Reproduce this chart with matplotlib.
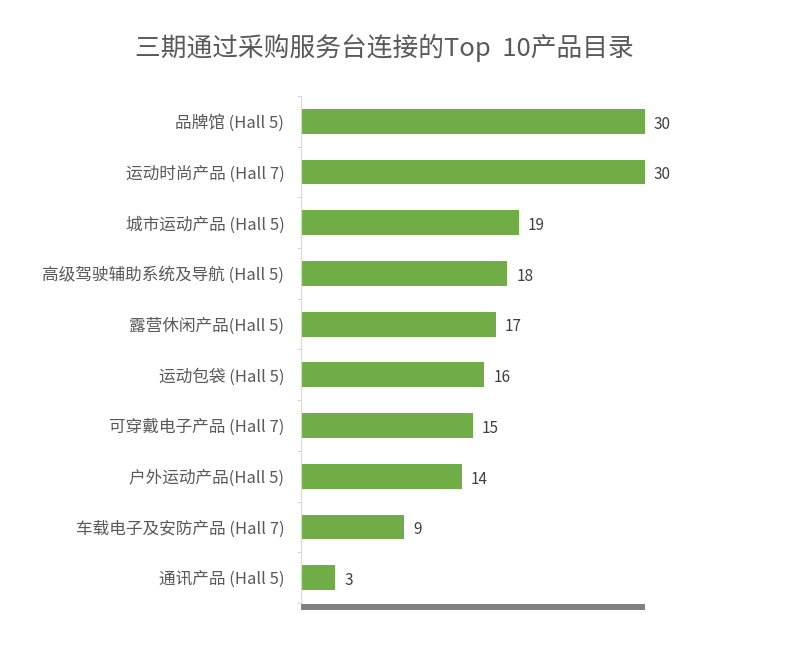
import matplotlib
matplotlib.use("Agg")
import matplotlib.pyplot as plt
import numpy as np

categories = [
    "品牌馆 (Hall 5)",
    "运动时尚产品 (Hall 7)",
    "城市运动产品 (Hall 5)",
    "高级驾驶辅助系统及导航 (Hall 5)",
    "露营休闲产品(Hall 5)",
    "运动包袋 (Hall 5)",
    "可穿戴电子产品 (Hall 7)",
    "户外运动产品(Hall 5)",
    "车载电子及安防产品 (Hall 7)",
    "通讯产品 (Hall 5)",
]
values = [30, 30, 19, 18, 17, 16, 15, 14, 9, 3]
title = "三期通过采购服务台连接的Top  10产品目录"

plt.rcParams['font.family'] = ['Noto Sans CJK SC', 'DejaVu Sans']

W, H = 797, 656
fig = plt.figure(figsize=(W / 100, H / 100), dpi=100)
left, right, top, bottom = 301, 645, 96, 603
ax = fig.add_axes([left / W, 1 - bottom / H, (right - left) / W, (bottom - top) / H])

y = np.arange(len(categories))
ax.barh(y, values, height=0.49, color="#70AD47")
ax.set_xlim(0, 30)
ax.set_ylim(len(categories) - 0.5, -0.5)

ax.set_yticks(y)
ax.set_yticklabels(categories, fontsize=12, color="#595959")
ax.set_yticks(np.arange(len(categories) + 1) - 0.5, minor=True)
ax.tick_params(axis="y", which="major", length=0, pad=12)
ax.tick_params(axis="y", which="minor", length=3, color="#D9D9D9", width=0.8)
ax.set_xticks([])

for s in ["top", "right"]:
    ax.spines[s].set_visible(False)
ax.spines["left"].set_color("#D9D9D9")
ax.spines["left"].set_linewidth(0.8)
ax.spines["bottom"].set_color("#808080")
ax.spines["bottom"].set_linewidth(4.3)
ax.spines["bottom"].set_position(("outward", 3))
ax.spines["bottom"].set_capstyle("butt")

for yi, v in zip(y, values):
    ax.annotate(str(v), (v, yi), xytext=(6.5, -2), textcoords="offset points",
                va="center", ha="left", fontsize=11, color="#404040")

fig.text(384 / W, 1 - 48 / H, title, ha="center", va="center",
         fontsize=18.5, color="#595959")

fig.savefig("out.png", dpi=100, facecolor="white")
